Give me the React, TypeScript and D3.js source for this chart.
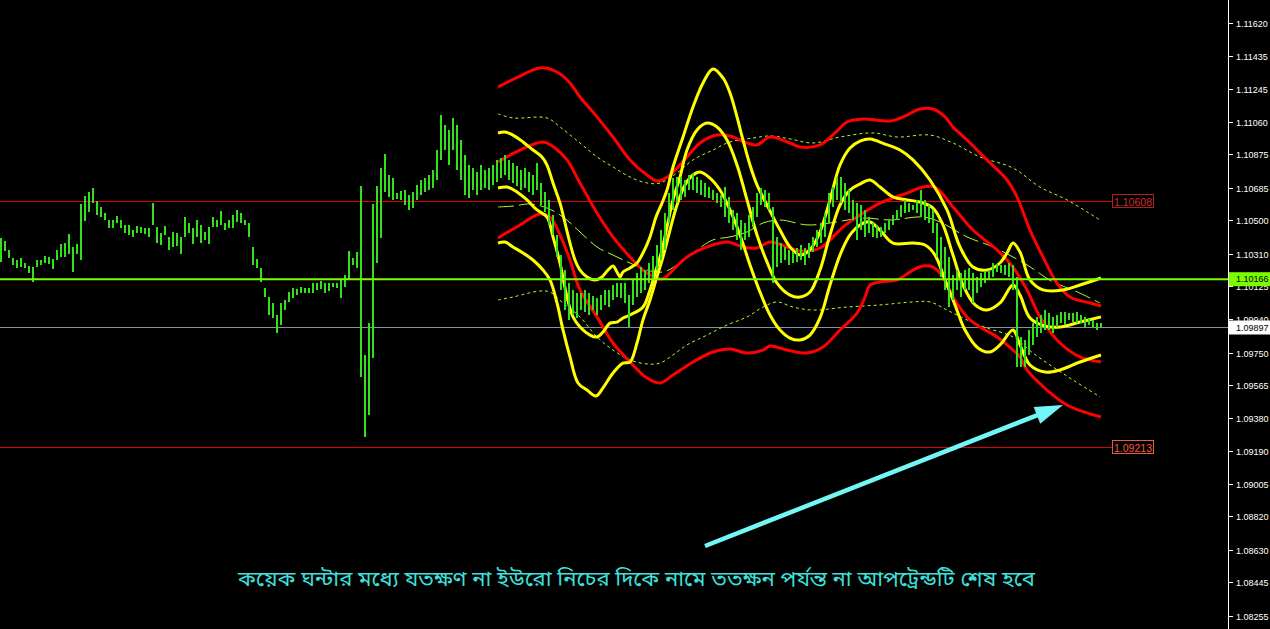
import React from "react";
import * as d3 from "d3";

const W = 1270;
const H = 629;
const PLOT_RIGHT = 1228;

const tickLabels = [
  "1.11620", "1.11435", "1.11245", "1.11060", "1.10875", "1.10685", "1.10500",
  "1.10310", "1.10125", "1.09940", "1.09750", "1.09565", "1.09380", "1.09190",
  "1.09005", "1.08820", "1.08630", "1.08445", "1.08255",
];

const barHigh = [
  1.10400, 1.10383, 1.10332, 1.10286, 1.10275, 1.10286, 1.10258, 1.10241, 1.10235, 1.10275,
  1.10275, 1.10298, 1.10292, 1.10281, 1.10332, 1.10366, 1.10371, 1.10423, 1.10349, 1.10366,
  1.10593, 1.10638, 1.10661, 1.10684, 1.10610, 1.10576, 1.10542, 1.10502, 1.10502, 1.10525,
  1.10502, 1.10474, 1.10474, 1.10445, 1.10468, 1.10462, 1.10457, 1.10457, 1.10598, 1.10462,
  1.10428, 1.10468, 1.10406, 1.10434, 1.10428, 1.10406, 1.10519, 1.10485, 1.10457, 1.10502,
  1.10474, 1.10434, 1.10462, 1.10519, 1.10502, 1.10553, 1.10485, 1.10502, 1.10530, 1.10559,
  1.10542, 1.10502, 1.10485, 1.10349, 1.10281, 1.10230, 1.10116, 1.10065, 1.10031, 1.09963,
  1.10031, 1.10048, 1.10093, 1.10116, 1.10110, 1.10122, 1.10116, 1.10116, 1.10144, 1.10144,
  1.10156, 1.10144, 1.10144, 1.10144, 1.10144, 1.10162, 1.10190, 1.10326, 1.10286, 1.10320,
  1.10695, 1.09736, 1.09917, 1.10593, 1.10695, 1.10797, 1.10877, 1.10757, 1.10740, 1.10655,
  1.10667, 1.10672, 1.10644, 1.10661, 1.10701, 1.10729, 1.10740, 1.10757, 1.10786, 1.10899,
  1.11098, 1.11041, 1.11013, 1.11081, 1.11041, 1.10956, 1.10871, 1.10814, 1.10797, 1.10774,
  1.10814, 1.10786, 1.10797, 1.10814, 1.10843, 1.10854, 1.10871, 1.10843, 1.10825, 1.10808,
  1.10786, 1.10797, 1.10774, 1.10757, 1.10825, 1.10712, 1.10661, 1.10616, 1.10530, 1.10417,
  1.10303, 1.10218, 1.10144, 1.10105, 1.10088, 1.10088, 1.10105, 1.10088, 1.10071, 1.10059,
  1.10076, 1.10105, 1.10105, 1.10133, 1.10144, 1.10144, 1.10144, 1.10076, 1.10162, 1.10201,
  1.10235, 1.10218, 1.10258, 1.10298, 1.10360, 1.10445, 1.10542, 1.10655, 1.10740, 1.10746,
  1.10746, 1.10729, 1.10757, 1.10769, 1.10746, 1.10729, 1.10712, 1.10689, 1.10672, 1.10655,
  1.10644, 1.10689, 1.10633, 1.10559, 1.10542, 1.10502, 1.10485, 1.10530, 1.10576, 1.10655,
  1.10684, 1.10672, 1.10655, 1.10576, 1.10406, 1.10371, 1.10349, 1.10332, 1.10320, 1.10343,
  1.10360, 1.10343, 1.10371, 1.10406, 1.10445, 1.10485, 1.10542, 1.10655, 1.10689, 1.10740,
  1.10746, 1.10712, 1.10672, 1.10616, 1.10598, 1.10587, 1.10559, 1.10519, 1.10485, 1.10474,
  1.10462, 1.10485, 1.10502, 1.10530, 1.10559, 1.10587, 1.10616, 1.10598, 1.10587, 1.10616,
  1.10672, 1.10616, 1.10587, 1.10559, 1.10485, 1.10406, 1.10349, 1.10292, 1.10190, 1.10218,
  1.10201, 1.10218, 1.10230, 1.10201, 1.10179, 1.10201, 1.10213, 1.10218, 1.10258, 1.10252,
  1.10247, 1.10247, 1.10258, 1.10247, 1.10179, 1.09838, 1.09821, 1.09878, 1.09917, 1.09952,
  1.09963, 1.09991, 1.09974, 1.09952, 1.09963, 1.09980, 1.09980, 1.09974, 1.09974, 1.09980,
  1.09963, 1.09952, 1.09946, 1.09935, 1.09917, 1.09917,
];

const barLow = [
  1.10264, 1.10326, 1.10286, 1.10247, 1.10230, 1.10235, 1.10230, 1.10201, 1.10150, 1.10235,
  1.10247, 1.10258, 1.10252, 1.10224, 1.10275, 1.10292, 1.10292, 1.10309, 1.10207, 1.10309,
  1.10275, 1.10496, 1.10547, 1.10598, 1.10530, 1.10519, 1.10502, 1.10457, 1.10457, 1.10485,
  1.10457, 1.10428, 1.10417, 1.10406, 1.10428, 1.10428, 1.10423, 1.10406, 1.10474, 1.10371,
  1.10360, 1.10417, 1.10332, 1.10349, 1.10354, 1.10309, 1.10406, 1.10428, 1.10366, 1.10406,
  1.10371, 1.10389, 1.10366, 1.10462, 1.10462, 1.10474, 1.10445, 1.10457, 1.10457, 1.10491,
  1.10485, 1.10474, 1.10406, 1.10247, 1.10230, 1.10150, 1.10065, 1.09963, 1.09946, 1.09861,
  1.09906, 1.09991, 1.10037, 1.10059, 1.10076, 1.10088, 1.10088, 1.10088, 1.10088, 1.10105,
  1.10110, 1.10088, 1.10099, 1.10122, 1.10116, 1.10059, 1.10122, 1.10162, 1.10247, 1.10230,
  1.09611, 1.09271, 1.09395, 1.09719, 1.10258, 1.10400, 1.10661, 1.10633, 1.10616, 1.10621,
  1.10616, 1.10587, 1.10559, 1.10570, 1.10616, 1.10644, 1.10661, 1.10672, 1.10684, 1.10729,
  1.10843, 1.10899, 1.10814, 1.10899, 1.10786, 1.10729, 1.10644, 1.10627, 1.10672, 1.10644,
  1.10672, 1.10684, 1.10672, 1.10701, 1.10718, 1.10740, 1.10757, 1.10729, 1.10712, 1.10695,
  1.10672, 1.10684, 1.10661, 1.10644, 1.10672, 1.10587, 1.10547, 1.10474, 1.10417, 1.10292,
  1.10105, 1.09991, 1.09935, 1.09963, 1.09946, 1.09991, 1.09980, 1.09963, 1.09991, 1.09963,
  1.09991, 1.10020, 1.10008, 1.10048, 1.10065, 1.10059, 1.10031, 1.09895, 1.10020, 1.10065,
  1.10088, 1.10105, 1.10144, 1.10162, 1.10218, 1.10275, 1.10332, 1.10485, 1.10559, 1.10598,
  1.10616, 1.10633, 1.10672, 1.10672, 1.10655, 1.10644, 1.10633, 1.10627, 1.10616, 1.10598,
  1.10576, 1.10519, 1.10485, 1.10445, 1.10389, 1.10332, 1.10389, 1.10406, 1.10462, 1.10519,
  1.10587, 1.10576, 1.10559, 1.10144, 1.10235, 1.10258, 1.10275, 1.10247, 1.10258, 1.10264,
  1.10275, 1.10247, 1.10286, 1.10320, 1.10349, 1.10371, 1.10406, 1.10485, 1.10576, 1.10616,
  1.10598, 1.10559, 1.10542, 1.10502, 1.10389, 1.10445, 1.10406, 1.10428, 1.10406, 1.10400,
  1.10406, 1.10428, 1.10445, 1.10474, 1.10502, 1.10519, 1.10542, 1.10547, 1.10559, 1.10542,
  1.10519, 1.10502, 1.10485, 1.10428, 1.10292, 1.10179, 1.10105, 1.10008, 1.10048, 1.10105,
  1.10065, 1.10105, 1.10105, 1.10031, 1.10088, 1.10122, 1.10144, 1.10162, 1.10179, 1.10207,
  1.10201, 1.10190, 1.10179, 1.10105, 1.09668, 1.09668, 1.09668, 1.09736, 1.09793, 1.09838,
  1.09861, 1.09878, 1.09878, 1.09861, 1.09895, 1.09917, 1.09906, 1.09935, 1.09923, 1.09917,
  1.09917, 1.09895, 1.09906, 1.09889, 1.09878, 1.09895,
];

type Pt = [number, number];

const redUpper: Pt[] = [
  [124.25, 1.11257], [129.75, 1.11319], [134.75, 1.11365], [139, 1.11342], [142.25, 1.1128],
  [144.75, 1.112], [149, 1.11087], [153, 1.10973], [157.25, 1.10843], [161.5, 1.10757],
  [164.25, 1.10723], [167.25, 1.10757], [171.5, 1.1086], [174.75, 1.10939], [179, 1.10984],
  [182.25, 1.10979], [186.5, 1.10939], [189, 1.10928], [192.25, 1.10973], [197.25, 1.10939],
  [199.75, 1.10916], [204.75, 1.10928], [208.5, 1.10996], [211.5, 1.11058], [215.5, 1.11075],
  [222.25, 1.11064], [226, 1.11092], [229.75, 1.11132], [233, 1.11132], [236, 1.11087],
  [238, 1.1103], [241.5, 1.10956], [246.5, 1.10843], [251.5, 1.10729], [254, 1.10633],
  [257.25, 1.10445], [260.5, 1.10292], [264, 1.10144], [267.25, 1.10065], [272.25, 1.10031],
  [275, 1.10014],
];

const redMid: Pt[] = [
  [124.25, 1.10831], [129.75, 1.10899], [135.5, 1.10945], [138.5, 1.10911], [141.5, 1.10843],
  [144.75, 1.10712], [149, 1.10542], [153, 1.10406], [157.25, 1.10292], [161.5, 1.10201],
  [165.25, 1.10167], [168, 1.10218], [171.5, 1.10292], [176.5, 1.10349], [181.5, 1.10377],
  [185.5, 1.10349], [189, 1.10343], [192.25, 1.10377], [196.5, 1.10349], [199.75, 1.10326],
  [204.75, 1.10343], [210.5, 1.10462], [214.75, 1.1053], [219.75, 1.10598], [226.5, 1.10655],
  [230.5, 1.10689], [233.5, 1.10689], [238, 1.10576], [243, 1.10445], [249, 1.10332],
  [253, 1.10235], [256.5, 1.10105], [259.75, 1.09952], [264.75, 1.09804], [269.75, 1.09725],
  [275, 1.09696],
];

const redLower: Pt[] = [
  [124.25, 1.104], [129.75, 1.10474], [134.75, 1.10536], [137.25, 1.10519], [139.75, 1.10417],
  [142.25, 1.10275], [144.75, 1.10105], [149, 1.09952], [153, 1.09804], [157.25, 1.09696],
  [161.5, 1.09605], [164.75, 1.09577], [168, 1.09622], [173, 1.09696], [178, 1.09753],
  [182.25, 1.0977], [186.5, 1.09747], [190.5, 1.09764], [192.25, 1.09787], [196.5, 1.09764],
  [201.5, 1.09747], [205.5, 1.09781], [209.75, 1.09878], [214, 1.09974], [216, 1.10065],
  [217.25, 1.10133], [219.75, 1.1015], [224, 1.10162], [228, 1.10218], [230.5, 1.10241],
  [233, 1.10235], [235.5, 1.10179], [238, 1.10065], [241.5, 1.09952], [244.75, 1.09895],
  [249, 1.09838], [253, 1.09764], [254.75, 1.09725], [256.5, 1.09651], [261.5, 1.09537],
  [266.5, 1.09452], [271.5, 1.09407], [275, 1.09384],
];

const yellowUpper: Pt[] = [
  [124.25, 1.10996], [126, 1.11001], [128, 1.10984], [130.5, 1.10945], [133, 1.10899],
  [135.25, 1.1086], [136.5, 1.10814], [138, 1.10712], [139.75, 1.10598], [141, 1.10485],
  [142.25, 1.10371], [143.5, 1.10275], [144.75, 1.10218], [146.5, 1.10179], [148.5, 1.10162],
  [150.25, 1.10179], [151.75, 1.10218], [153, 1.10241], [154, 1.10207], [154.75, 1.10179],
  [155.5, 1.10207], [157.25, 1.1023], [159, 1.10258], [160.5, 1.10315], [162.25, 1.10406],
  [163.75, 1.10519], [165.25, 1.10598], [166.5, 1.10672], [168, 1.10803], [170.5, 1.10973],
  [173, 1.11143], [175.5, 1.1128], [178, 1.11359], [180.5, 1.11308], [182.25, 1.11223],
  [184, 1.11087], [185.5, 1.10956], [187.25, 1.10814], [189, 1.10701], [191.5, 1.10587],
  [194.75, 1.10445], [197.25, 1.10349], [199.75, 1.10303], [202.25, 1.10332], [204.75, 1.10434],
  [207.25, 1.10616], [209.75, 1.10814], [212.25, 1.10911], [214.75, 1.1095], [217.25, 1.10962],
  [221, 1.10933], [224.75, 1.10899], [228, 1.10843], [232.25, 1.10729], [236.5, 1.10559],
  [239.75, 1.10349], [243, 1.10235], [246.5, 1.10218], [249.75, 1.10258], [251.5, 1.10315],
  [253, 1.10371], [254.75, 1.1032], [257.25, 1.10162], [260.5, 1.10105], [265.5, 1.10105],
  [269.75, 1.10133], [275, 1.10173],
];

const yellowMid: Pt[] = [
  [124.25, 1.10684], [126.5, 1.10689], [129, 1.10661], [131.5, 1.10616], [134, 1.10559],
  [136.5, 1.10519], [138, 1.10406], [139.75, 1.10258], [141.5, 1.10065], [143, 1.09952],
  [144.75, 1.09895], [147.25, 1.09849], [149, 1.09838], [150.5, 1.09866], [152.25, 1.09917],
  [154, 1.09923], [155.5, 1.09946], [157.25, 1.09963], [160.5, 1.10008], [162.25, 1.10105],
  [163.75, 1.10218], [165.25, 1.10332], [166.5, 1.10462], [168, 1.10616], [169.75, 1.10746],
  [171.5, 1.10899], [174, 1.11013], [176.5, 1.11052], [179, 1.1103], [181.5, 1.10956],
  [184, 1.10814], [186.5, 1.10616], [189, 1.10417], [191.5, 1.10264], [194, 1.10144],
  [197.25, 1.10076], [199.75, 1.10065], [202.25, 1.10093], [204.75, 1.10218], [207.25, 1.10417],
  [209.75, 1.10587], [212.25, 1.10672], [214.75, 1.10706], [217.25, 1.10729], [219.75, 1.10689],
  [223, 1.10633], [226.5, 1.10616], [229.75, 1.10604], [233, 1.1057], [235.5, 1.10474],
  [238, 1.10303], [240.5, 1.10133], [243.5, 1.1002], [246.5, 1.09991], [249.75, 1.10031],
  [253, 1.10133], [254.75, 1.10076], [257.25, 1.09946], [261, 1.099], [264.75, 1.09895],
  [269.75, 1.09923], [275, 1.09952],
];

const yellowLower: Pt[] = [
  [124.25, 1.10371], [126, 1.10377], [128, 1.10349], [130.5, 1.10315], [133, 1.10275],
  [135.5, 1.10218], [137.25, 1.10162], [139, 1.10031], [140.5, 1.09878], [142.25, 1.09725],
  [144.25, 1.09577], [146.5, 1.09537], [148.75, 1.09503], [150.5, 1.09549], [153, 1.09634],
  [155.5, 1.0969], [157.25, 1.09696], [159, 1.09804], [160.5, 1.09935], [162.25, 1.10048],
  [163.75, 1.10162], [165.5, 1.10292], [167.25, 1.10445], [169, 1.10587], [171, 1.10701],
  [173, 1.10757], [174.75, 1.10774], [177.25, 1.1074], [179.75, 1.10672], [182.25, 1.10559],
  [184.75, 1.10417], [187.25, 1.10247], [189.75, 1.10093], [192.25, 1.09963], [194.75, 1.09878],
  [197.25, 1.09832], [199.75, 1.09821], [202.25, 1.09849], [204.75, 1.09946], [207.25, 1.10133],
  [209.75, 1.10303], [212.25, 1.10417], [214.75, 1.10474], [217.25, 1.10491], [219.75, 1.10445],
  [223, 1.10371], [228, 1.10371], [231, 1.1036], [233.5, 1.10303], [236, 1.10162],
  [238.5, 1.1002], [241, 1.09878], [244.25, 1.09776], [247.25, 1.09753], [249.75, 1.09793],
  [253, 1.09878], [254.75, 1.09793], [257.25, 1.09679], [261, 1.09639], [264.75, 1.09651],
  [269.75, 1.09696], [275, 1.09736],
];

const greenUpper: Pt[] = [
  [124.25, 1.11104], [128, 1.11081], [136.5, 1.11081], [139.75, 1.1103], [144.75, 1.10939],
  [149, 1.1086], [153, 1.10803], [157.25, 1.10746], [161.5, 1.10712], [164.75, 1.10712],
  [169, 1.10769], [173, 1.10843], [178, 1.10899], [182.25, 1.10945], [188, 1.10967],
  [192.25, 1.10979], [197.25, 1.10962], [203, 1.10939], [209.75, 1.10973], [218, 1.10996],
  [224, 1.10973], [232.25, 1.10984], [238, 1.10939], [244.75, 1.1086], [253, 1.10797],
  [259.75, 1.10689], [266.5, 1.10616], [274.75, 1.10502],
];

const greenMid: Pt[] = [
  [124.25, 1.10576], [128, 1.10581], [132.25, 1.10593], [136.5, 1.1057], [140.5, 1.10519],
  [144.75, 1.10434], [149, 1.10349], [153, 1.10303], [157.25, 1.10258], [161.5, 1.10218],
  [165.5, 1.10207], [169.75, 1.10258], [174, 1.10332], [178, 1.10389], [182.25, 1.10406],
  [186.5, 1.10434], [190.5, 1.10485], [194.75, 1.10502], [201.5, 1.10474], [207.25, 1.10485],
  [215.5, 1.10513], [222.25, 1.10502], [230.5, 1.10519], [234.75, 1.10491], [241.5, 1.10406],
  [248, 1.10349], [256.5, 1.10247], [263, 1.1015], [268, 1.10105], [274.75, 1.10031],
];

const greenLower: Pt[] = [
  [124.25, 1.10048], [128, 1.10065], [134.75, 1.10099], [137.25, 1.10093], [140.5, 1.10031],
  [144.75, 1.09952], [149, 1.09838], [153, 1.09764], [157.25, 1.09708], [161.5, 1.09685],
  [164.75, 1.0969], [168, 1.09736], [171.5, 1.09793], [176.5, 1.09849], [181.5, 1.09906],
  [186.5, 1.09952], [190.5, 1.10008], [194, 1.10037], [198, 1.10008], [203, 1.09991],
  [211.5, 1.10008], [219.75, 1.1002], [228, 1.10037], [232.25, 1.10037], [236.5, 1.09991],
  [241.5, 1.09935], [246.5, 1.09889], [253, 1.09838], [258, 1.09747], [263, 1.09668],
  [268, 1.09594], [274.75, 1.09498],
];

const levelUpper = 1.10608;
const levelLower = 1.09213;
const levelGreen = 1.10166;
const currentPrice = 1.09897;

const arrowFrom: Pt = [176, 1.08652];
const arrowTo: Pt = [265.5, 1.09452];

const caption =
  "কয়েক ঘন্টার মধ্যে যতক্ষণ না ইউরো নিচের দিকে নামে ততক্ষন পর্যন্ত না আপট্রেন্ডটি শেষ হবে";

export default function App() {
  const x = d3.scaleLinear().domain([0, 275]).range([1, 1101]);
  const y = d3.scaleLinear().domain([1.081809, 1.117505]).range([H, 0]);

  const line = d3
    .line<Pt>()
    .x((d) => x(d[0]))
    .y((d) => y(d[1]))
    .curve(d3.curveCatmullRom.alpha(0.5));

  const barsPath = barHigh
    .map((h, i) => {
      const xi = x(i);
      const y1 = Math.round(y(h));
      let y2 = Math.round(y(barLow[i]));
      if (y2 - y1 < 1) y2 = y1 + 1;
      return `M${xi},${y1}V${y2}`;
    })
    .join("");

  const ax1 = x(arrowFrom[0]);
  const ay1 = y(arrowFrom[1]);
  const ax2 = x(arrowTo[0]);
  const ay2 = y(arrowTo[1]);
  const len = Math.hypot(ax2 - ax1, ay2 - ay1);
  const ux = (ax2 - ax1) / len;
  const uy = (ay2 - ay1) / len;
  const headL = 28;
  const headW = 9;
  const bx = ax2 - ux * headL;
  const by = ay2 - uy * headL;
  const px = -uy;
  const py = ux;
  const head = `M${ax2},${ay2}L${bx + px * headW},${by + py * headW}L${bx - px * headW},${by - py * headW}Z`;

  const axisFont = "'Liberation Sans', Arial, sans-serif";

  const yU = Math.round(y(levelUpper)) + 0.5;
  const yL = Math.round(y(levelLower)) + 0.5;
  const yG = y(levelGreen);
  const yC = Math.round(y(currentPrice)) + 0.5;

  return (
    <div
      style={{
        position: "fixed",
        left: 0,
        top: 0,
        width: W,
        height: H,
        background: "#000",
        overflow: "hidden",
      }}
    >
      <svg width={W} height={H} style={{ display: "block" }}>
        <rect x={0} y={0} width={W} height={H} fill="#000" />

        <line x1={0} x2={1112} y1={yU} y2={yU} stroke="#e00000" strokeWidth={1} />
        <line x1={0} x2={1112} y1={yL} y2={yL} stroke="#e00000" strokeWidth={1} />
        <line x1={0} x2={PLOT_RIGHT} y1={yC} y2={yC} stroke="#8393a7" strokeWidth={1} />

        <g fill="none">
          <path d={line(greenUpper) || ""} stroke="#adff2f" strokeWidth={1} strokeDasharray="3 3" />
          <path d={line(greenMid) || ""} stroke="#adff2f" strokeWidth={1} strokeDasharray="16 5" />
          <path d={line(greenLower) || ""} stroke="#adff2f" strokeWidth={1} strokeDasharray="3 3" />
          <path d={line(redUpper) || ""} stroke="#ff0000" strokeWidth={3} />
          <path d={line(redMid) || ""} stroke="#ff0000" strokeWidth={3} />
          <path d={line(redLower) || ""} stroke="#ff0000" strokeWidth={3} />
          <path d={line(yellowUpper) || ""} stroke="#ffff00" strokeWidth={3} />
          <path d={line(yellowMid) || ""} stroke="#ffff00" strokeWidth={3} />
          <path d={line(yellowLower) || ""} stroke="#ffff00" strokeWidth={3} />
        </g>

        <path d={barsPath} stroke="#33e01c" strokeWidth={2} fill="none" shapeRendering="crispEdges" />

        <line x1={0} x2={PLOT_RIGHT} y1={yG} y2={yG} stroke="#7cfc00" strokeWidth={2} />

        <g fontFamily={axisFont} fontSize={10.5}>
          <rect x={1112.5} y={yU - 7} width={41} height={13} fill="#000" stroke="#b01e1e" />
          <text x={1133} y={yU} textAnchor="middle" dominantBaseline="central" fill="#c8302a">
            {levelUpper.toFixed(5)}
          </text>
          <rect x={1112.5} y={yL - 7} width={41} height={13} fill="#000" stroke="#f05a3c" />
          <text x={1133} y={yL} textAnchor="middle" dominantBaseline="central" fill="#f05a3c">
            {levelLower.toFixed(5)}
          </text>
        </g>

        <line x1={ax1} y1={ay1} x2={bx + ux * 2} y2={by + uy * 2} stroke="#72f6f6" strokeWidth={4.5} />
        <path d={head} fill="#72f6f6" />

        <text
          x={238}
          y={586}
          fill="#3ee0dc"
          fontSize={21}
          textLength={797}
          lengthAdjust="spacingAndGlyphs"
          fontFamily="'Noto Sans Bengali', 'Lohit Bengali', 'FreeSans', 'Noto Sans', sans-serif"
        >
          {caption}
        </text>

        <rect x={PLOT_RIGHT + 1} y={0} width={W - PLOT_RIGHT - 1} height={H} fill="#000" />
        <line x1={PLOT_RIGHT + 0.5} x2={PLOT_RIGHT + 0.5} y1={0} y2={H} stroke="#fff" strokeWidth={1} />
        <g fontFamily={axisFont} fontSize={9} fill="#fff">
          {tickLabels.map((t) => {
            const ty = Math.round(y(+t)) + 0.5;
            return (
              <g key={t}>
                <line x1={PLOT_RIGHT + 1} x2={PLOT_RIGHT + 5} y1={ty} y2={ty} stroke="#fff" />
                <text x={1236} y={ty} dominantBaseline="central">
                  {t}
                </text>
              </g>
            );
          })}
        </g>

        <g fontFamily={axisFont} fontSize={9}>
          <rect x={PLOT_RIGHT + 1} y={yG - 7} width={W - PLOT_RIGHT - 1} height={14} fill="#7cfc00" />
          <text x={1236} y={yG} dominantBaseline="central" fill="#000">
            {levelGreen.toFixed(5)}
          </text>
          <rect x={PLOT_RIGHT + 1} y={yC - 7} width={W - PLOT_RIGHT - 1} height={14} fill="#fff" />
          <text x={1236} y={yC} dominantBaseline="central" fill="#000">
            {currentPrice.toFixed(5)}
          </text>
        </g>
      </svg>
    </div>
  );
}
